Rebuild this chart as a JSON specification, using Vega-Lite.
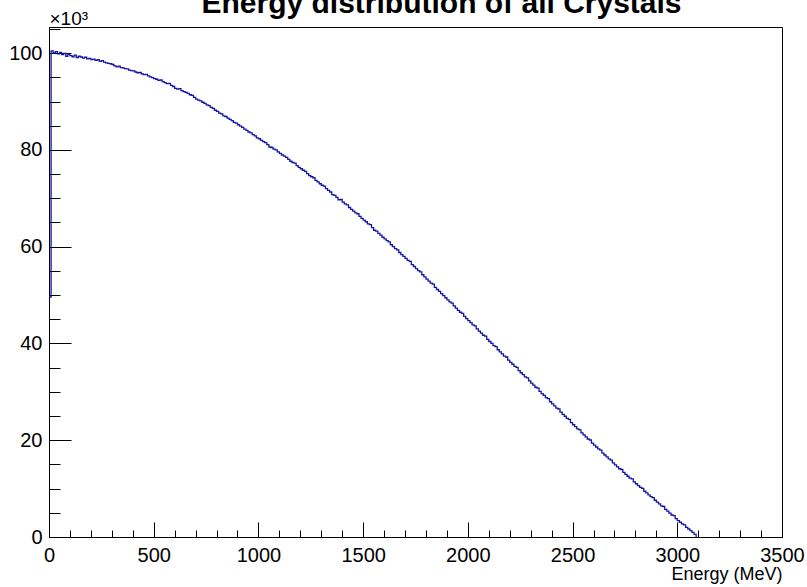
{
  "$schema": "https://vega.github.io/schema/vega-lite/v6.json",
  "width": 733,
  "height": 510,
  "autosize": "none",
  "padding": {"left": 49, "top": 27, "right": 25, "bottom": 50},
  "background": "white",
  "config": {
    "font": "Liberation Sans",
    "view": {"stroke": "black", "strokeWidth": 1}
  },
  "title": {
    "text": "Energy distribution of all Crystals",
    "font": "Liberation Sans",
    "fontSize": 30,
    "fontWeight": "bold",
    "color": "black",
    "anchor": "middle",
    "frame": "group",
    "baseline": "alphabetic",
    "dx": 26,
    "offset": -34
  },
  "data": {
    "values": [
      {"energy": 0, "counts": 49600},
      {"energy": 10, "counts": 100450}, {"energy": 20, "counts": 100050}, {"energy": 30, "counts": 100300}, {"energy": 40, "counts": 99850}, {"energy": 50, "counts": 100150},
      {"energy": 60, "counts": 99700}, {"energy": 70, "counts": 99950}, {"energy": 80, "counts": 99350}, {"energy": 90, "counts": 99800}, {"energy": 100, "counts": 99500},
      {"energy": 110, "counts": 99250}, {"energy": 120, "counts": 99600}, {"energy": 130, "counts": 99100}, {"energy": 140, "counts": 99350}, {"energy": 150, "counts": 99200},
      {"energy": 160, "counts": 98950}, {"energy": 170, "counts": 99150}, {"energy": 180, "counts": 98800}, {"energy": 190, "counts": 98900}, {"energy": 200, "counts": 98650},
      {"energy": 210, "counts": 98750}, {"energy": 220, "counts": 98500}, {"energy": 230, "counts": 98650}, {"energy": 240, "counts": 98300}, {"energy": 250, "counts": 98450},
      {"energy": 260, "counts": 98150}, {"energy": 270, "counts": 98000}, {"energy": 280, "counts": 97900}, {"energy": 290, "counts": 97800}, {"energy": 300, "counts": 97650},
      {"energy": 310, "counts": 97350}, {"energy": 320, "counts": 97150}, {"energy": 330, "counts": 97300}, {"energy": 340, "counts": 97000}, {"energy": 350, "counts": 96950},
      {"energy": 360, "counts": 96800}, {"energy": 370, "counts": 96750}, {"energy": 380, "counts": 96500}, {"energy": 390, "counts": 96400}, {"energy": 400, "counts": 96350},
      {"energy": 410, "counts": 96100}, {"energy": 420, "counts": 95950}, {"energy": 430, "counts": 96000}, {"energy": 440, "counts": 95700}, {"energy": 450, "counts": 95550},
      {"energy": 460, "counts": 95600}, {"energy": 470, "counts": 95300}, {"energy": 480, "counts": 95100}, {"energy": 490, "counts": 94950}, {"energy": 500, "counts": 94750},
      {"energy": 510, "counts": 94600}, {"energy": 520, "counts": 94350}, {"energy": 530, "counts": 94450}, {"energy": 540, "counts": 94100}, {"energy": 550, "counts": 93900},
      {"energy": 560, "counts": 93700}, {"energy": 570, "counts": 93750}, {"energy": 580, "counts": 93350}, {"energy": 590, "counts": 93100}, {"energy": 600, "counts": 92700},
      {"energy": 610, "counts": 92550}, {"energy": 620, "counts": 92650}, {"energy": 630, "counts": 92250}, {"energy": 640, "counts": 92050}, {"energy": 650, "counts": 91900},
      {"energy": 660, "counts": 91700}, {"energy": 670, "counts": 91400}, {"energy": 680, "counts": 91250}, {"energy": 690, "counts": 90850}, {"energy": 700, "counts": 90500},
      {"energy": 710, "counts": 90300}, {"energy": 720, "counts": 90150}, {"energy": 730, "counts": 89850}, {"energy": 740, "counts": 89600}, {"energy": 750, "counts": 89300},
      {"energy": 760, "counts": 89150}, {"energy": 770, "counts": 88800}, {"energy": 780, "counts": 88600}, {"energy": 790, "counts": 88200}, {"energy": 800, "counts": 87950},
      {"energy": 810, "counts": 87600}, {"energy": 820, "counts": 87450}, {"energy": 830, "counts": 87050}, {"energy": 840, "counts": 86900}, {"energy": 850, "counts": 86550},
      {"energy": 860, "counts": 86300}, {"energy": 870, "counts": 86050}, {"energy": 880, "counts": 85700}, {"energy": 890, "counts": 85550}, {"energy": 900, "counts": 85200},
      {"energy": 910, "counts": 84900}, {"energy": 920, "counts": 84650}, {"energy": 930, "counts": 84300}, {"energy": 940, "counts": 84050}, {"energy": 950, "counts": 83700},
      {"energy": 960, "counts": 83500}, {"energy": 970, "counts": 83150}, {"energy": 980, "counts": 82900}, {"energy": 990, "counts": 82500}, {"energy": 1000, "counts": 82300},
      {"energy": 1010, "counts": 81950}, {"energy": 1020, "counts": 81700}, {"energy": 1030, "counts": 81500}, {"energy": 1040, "counts": 81100}, {"energy": 1050, "counts": 80600},
      {"energy": 1060, "counts": 80500}, {"energy": 1070, "counts": 80150}, {"energy": 1080, "counts": 80000}, {"energy": 1090, "counts": 79600}, {"energy": 1100, "counts": 79300},
      {"energy": 1110, "counts": 78950}, {"energy": 1120, "counts": 78700}, {"energy": 1130, "counts": 78450}, {"energy": 1140, "counts": 78050}, {"energy": 1150, "counts": 77650},
      {"energy": 1160, "counts": 77400}, {"energy": 1170, "counts": 77250}, {"energy": 1180, "counts": 76750}, {"energy": 1190, "counts": 76400}, {"energy": 1200, "counts": 76100},
      {"energy": 1210, "counts": 75800}, {"energy": 1220, "counts": 75550}, {"energy": 1230, "counts": 75100}, {"energy": 1240, "counts": 74700}, {"energy": 1250, "counts": 74450},
      {"energy": 1260, "counts": 74250}, {"energy": 1270, "counts": 73700}, {"energy": 1280, "counts": 73400}, {"energy": 1290, "counts": 73000}, {"energy": 1300, "counts": 72700},
      {"energy": 1310, "counts": 72500}, {"energy": 1320, "counts": 72000}, {"energy": 1330, "counts": 71650}, {"energy": 1340, "counts": 71300}, {"energy": 1350, "counts": 70750},
      {"energy": 1360, "counts": 70600}, {"energy": 1370, "counts": 70200}, {"energy": 1380, "counts": 69700}, {"energy": 1390, "counts": 69750}, {"energy": 1400, "counts": 69200},
      {"energy": 1410, "counts": 68850}, {"energy": 1420, "counts": 68650}, {"energy": 1430, "counts": 68100}, {"energy": 1440, "counts": 67700}, {"energy": 1450, "counts": 67350},
      {"energy": 1460, "counts": 67000}, {"energy": 1470, "counts": 66800}, {"energy": 1480, "counts": 66250}, {"energy": 1490, "counts": 65850}, {"energy": 1500, "counts": 65500},
      {"energy": 1510, "counts": 65150}, {"energy": 1520, "counts": 64700}, {"energy": 1530, "counts": 64550}, {"energy": 1540, "counts": 63950}, {"energy": 1550, "counts": 63400},
      {"energy": 1560, "counts": 63200}, {"energy": 1570, "counts": 62750}, {"energy": 1580, "counts": 62400}, {"energy": 1590, "counts": 61950}, {"energy": 1600, "counts": 61600},
      {"energy": 1610, "counts": 61250}, {"energy": 1620, "counts": 61000}, {"energy": 1630, "counts": 60400}, {"energy": 1640, "counts": 60000}, {"energy": 1650, "counts": 59600},
      {"energy": 1660, "counts": 59350}, {"energy": 1670, "counts": 58800}, {"energy": 1680, "counts": 58350}, {"energy": 1690, "counts": 58000}, {"energy": 1700, "counts": 57600},
      {"energy": 1710, "counts": 57150}, {"energy": 1720, "counts": 56950}, {"energy": 1730, "counts": 56300}, {"energy": 1740, "counts": 55900}, {"energy": 1750, "counts": 55450},
      {"energy": 1760, "counts": 55050}, {"energy": 1770, "counts": 54800}, {"energy": 1780, "counts": 54200}, {"energy": 1790, "counts": 53750}, {"energy": 1800, "counts": 53300},
      {"energy": 1810, "counts": 52900}, {"energy": 1820, "counts": 52450}, {"energy": 1830, "counts": 52250}, {"energy": 1840, "counts": 51600}, {"energy": 1850, "counts": 51150},
      {"energy": 1860, "counts": 50750}, {"energy": 1870, "counts": 50300}, {"energy": 1880, "counts": 49900}, {"energy": 1890, "counts": 49450}, {"energy": 1900, "counts": 49000},
      {"energy": 1910, "counts": 48600}, {"energy": 1920, "counts": 48350}, {"energy": 1930, "counts": 47750}, {"energy": 1940, "counts": 47300}, {"energy": 1950, "counts": 46850},
      {"energy": 1960, "counts": 46450}, {"energy": 1970, "counts": 46200}, {"energy": 1980, "counts": 45600}, {"energy": 1990, "counts": 45150}, {"energy": 2000, "counts": 44700},
      {"energy": 2010, "counts": 44300}, {"energy": 2020, "counts": 43850}, {"energy": 2030, "counts": 43650}, {"energy": 2040, "counts": 43000}, {"energy": 2050, "counts": 42550},
      {"energy": 2060, "counts": 42150}, {"energy": 2070, "counts": 41700}, {"energy": 2080, "counts": 41500}, {"energy": 2090, "counts": 40850}, {"energy": 2100, "counts": 40400},
      {"energy": 2110, "counts": 40000}, {"energy": 2120, "counts": 39550}, {"energy": 2130, "counts": 39350}, {"energy": 2140, "counts": 38700}, {"energy": 2150, "counts": 38250},
      {"energy": 2160, "counts": 37850}, {"energy": 2170, "counts": 37400}, {"energy": 2180, "counts": 37200}, {"energy": 2190, "counts": 36550}, {"energy": 2200, "counts": 36100},
      {"energy": 2210, "counts": 35700}, {"energy": 2220, "counts": 35250}, {"energy": 2230, "counts": 35050}, {"energy": 2240, "counts": 34400}, {"energy": 2250, "counts": 33950},
      {"energy": 2260, "counts": 33550}, {"energy": 2270, "counts": 33100}, {"energy": 2280, "counts": 32900}, {"energy": 2290, "counts": 32250}, {"energy": 2300, "counts": 31800},
      {"energy": 2310, "counts": 31400}, {"energy": 2320, "counts": 30950}, {"energy": 2330, "counts": 30750}, {"energy": 2340, "counts": 30100}, {"energy": 2350, "counts": 29650},
      {"energy": 2360, "counts": 29250}, {"energy": 2370, "counts": 28800}, {"energy": 2380, "counts": 28600}, {"energy": 2390, "counts": 27950}, {"energy": 2400, "counts": 27500},
      {"energy": 2410, "counts": 27100}, {"energy": 2420, "counts": 26650}, {"energy": 2430, "counts": 26450}, {"energy": 2440, "counts": 25800}, {"energy": 2450, "counts": 25350},
      {"energy": 2460, "counts": 24950}, {"energy": 2470, "counts": 24500}, {"energy": 2480, "counts": 24300}, {"energy": 2490, "counts": 23650}, {"energy": 2500, "counts": 23200},
      {"energy": 2510, "counts": 22800}, {"energy": 2520, "counts": 22350}, {"energy": 2530, "counts": 22150}, {"energy": 2540, "counts": 21500}, {"energy": 2550, "counts": 21100},
      {"energy": 2560, "counts": 20700}, {"energy": 2570, "counts": 20250}, {"energy": 2580, "counts": 20050}, {"energy": 2590, "counts": 19400}, {"energy": 2600, "counts": 19000},
      {"energy": 2610, "counts": 18600}, {"energy": 2620, "counts": 18200}, {"energy": 2630, "counts": 17950}, {"energy": 2640, "counts": 17350}, {"energy": 2650, "counts": 16950},
      {"energy": 2660, "counts": 16550}, {"energy": 2670, "counts": 16150}, {"energy": 2680, "counts": 15900}, {"energy": 2690, "counts": 15300}, {"energy": 2700, "counts": 14900},
      {"energy": 2710, "counts": 14500}, {"energy": 2720, "counts": 14100}, {"energy": 2730, "counts": 13950}, {"energy": 2740, "counts": 13350}, {"energy": 2750, "counts": 12950},
      {"energy": 2760, "counts": 12550}, {"energy": 2770, "counts": 12150}, {"energy": 2780, "counts": 12000}, {"energy": 2790, "counts": 11400}, {"energy": 2800, "counts": 11000},
      {"energy": 2810, "counts": 10600}, {"energy": 2820, "counts": 10250}, {"energy": 2830, "counts": 10050}, {"energy": 2840, "counts": 9450}, {"energy": 2850, "counts": 9100},
      {"energy": 2860, "counts": 8700}, {"energy": 2870, "counts": 8350}, {"energy": 2880, "counts": 8150}, {"energy": 2890, "counts": 7600}, {"energy": 2900, "counts": 7200},
      {"energy": 2910, "counts": 6850}, {"energy": 2920, "counts": 6450}, {"energy": 2930, "counts": 6300}, {"energy": 2940, "counts": 5700}, {"energy": 2950, "counts": 5350},
      {"energy": 2960, "counts": 4950}, {"energy": 2970, "counts": 4550}, {"energy": 2980, "counts": 4400}, {"energy": 2990, "counts": 3800}, {"energy": 3000, "counts": 3400},
      {"energy": 3010, "counts": 3050}, {"energy": 3020, "counts": 2700}, {"energy": 3030, "counts": 2500}, {"energy": 3040, "counts": 2000}, {"energy": 3050, "counts": 1650},
      {"energy": 3060, "counts": 1300}, {"energy": 3070, "counts": 950}, {"energy": 3080, "counts": 550}, {"energy": 3090, "counts": 0}
    ]
  },
  "resolve": {"axis": {"x": "independent", "y": "independent"}},
  "layer": [
    {
      "description": "minor ticks drawn inward, no labels",
      "mark": {"type": "line", "interpolate": "step-after", "strokeOpacity": 0},
      "encoding": {
        "x": {
          "field": "energy", "type": "quantitative",
          "scale": {"domain": [0, 3500], "nice": false, "zero": false},
          "axis": {
            "orient": "bottom",
            "values": [0,100,200,300,400,500,600,700,800,900,1000,1100,1200,1300,1400,1500,1600,1700,1800,1900,2000,2100,2200,2300,2400,2500,2600,2700,2800,2900,3000,3100,3200,3300,3400,3500],
            "tickSize": -7, "tickColor": "black", "tickWidth": 1,
            "labels": false, "domain": false, "grid": false, "title": null
          }
        },
        "y": {
          "field": "counts", "type": "quantitative",
          "scale": {"domain": [0, 105400], "nice": false, "zero": true},
          "axis": {
            "orient": "left",
            "values": [0,5000,10000,15000,20000,25000,30000,35000,40000,45000,50000,55000,60000,65000,70000,75000,80000,85000,90000,95000,100000,105000],
            "tickSize": -11, "tickColor": "black", "tickWidth": 1,
            "labels": false, "domain": false, "grid": false, "title": null
          }
        }
      }
    },
    {
      "mark": {"type": "line", "interpolate": "step-after", "color": "#1414a6", "strokeWidth": 1.3},
      "encoding": {
        "x": {
          "field": "energy", "type": "quantitative",
          "axis": {
            "orient": "bottom",
            "values": [0, 500, 1000, 1500, 2000, 2500, 3000, 3500],
            "format": "d",
            "tickSize": -15, "tickColor": "black", "tickWidth": 1,
            "domainColor": "black", "domainWidth": 1, "grid": false,
            "labelFont": "Liberation Sans", "labelFontSize": 20, "labelColor": "black",
            "labelPadding": 23, "labelFlush": false, "labelOverlap": false,
            "title": "Energy (MeV)",
            "titleFont": "Liberation Sans", "titleFontSize": 18, "titleFontWeight": "normal", "titleColor": "black",
            "titleAnchor": "end", "titleAlign": "right", "titleBaseline": "alphabetic",
            "titleX": 733, "titleY": 42
          }
        },
        "y": {
          "field": "counts", "type": "quantitative",
          "axis": {
            "orient": "left",
            "values": [0, 20000, 40000, 60000, 80000, 100000],
            "labelExpr": "format(datum.value / 1000, 'd')",
            "tickSize": -22, "tickColor": "black", "tickWidth": 1,
            "domainColor": "black", "domainWidth": 1, "grid": false,
            "labelFont": "Liberation Sans", "labelFontSize": 20, "labelColor": "black",
            "labelPadding": 29, "labelFlush": false, "labelOverlap": false,
            "title": "×10³",
            "titleFont": "Liberation Sans", "titleFontSize": 19, "titleFontWeight": "normal", "titleColor": "black",
            "titleAngle": 0, "titleAlign": "left", "titleBaseline": "alphabetic",
            "titleX": 0, "titleY": -3
          }
        }
      }
    }
  ]
}
